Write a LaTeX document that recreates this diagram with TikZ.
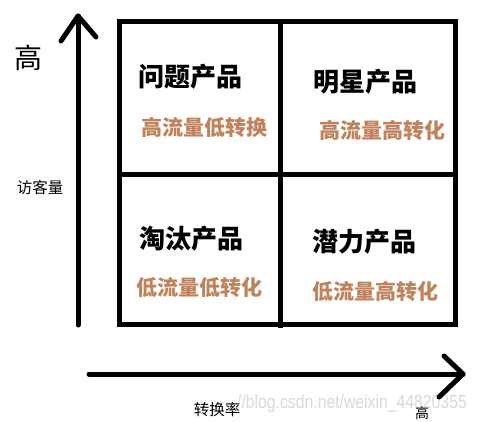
\documentclass[tikz,border=0pt]{standalone}
\usepackage{fontspec}
\newfontfamily\cjk{Noto Sans CJK SC}
\setsansfont{Liberation Sans}
\definecolor{sub}{RGB}{192,130,90}
\begin{document}
\begin{tikzpicture}[x=1pt,y=-1pt,
  thick line/.style={line width=5pt,line cap=round,line join=round},
  gridline/.style={line width=5pt},
  title/.style={font=\cjk\bfseries\fontsize{26}{26}\selectfont,inner sep=0pt},
  subt/.style={font=\cjk\bfseries\fontsize{21}{21}\selectfont,text=sub,inner sep=0pt},
  axislab/.style={font=\cjk\fontsize{15.5}{15.5}\selectfont,inner sep=0pt}]
\useasboundingbox (0,0) rectangle (477,421);
\fill[white] (0,0) rectangle (477,421);
% watermark
\begin{scope}
\clip (236,385) rectangle (477,421);
\node[font=\sffamily\fontsize{19}{19}\selectfont,text=black!15,inner sep=0pt,anchor=base east,xscale=0.83] (wm) at (467,408) {https://blog.csdn.net/weixin\_44820355};
\end{scope}
% grid
\draw[gridline] (119,21.5) rectangle (455.5,324.5);
\draw[gridline] (280.5,21.5) -- (280.5,328);
\draw[gridline] (119,174) -- (455.5,174);
% vertical axis
\coordinate (vb) at (78,325);
\coordinate (vt) at (78,16);
\coordinate (vl) at (61,41);
\coordinate (vr) at (96,37);
\draw[thick line] (vb) -- (vt);
\draw[thick line] (vl) -- (vt) -- (vr);
% horizontal axis
\coordinate (hl) at (89,374);
\coordinate (hr) at (463,374);
\coordinate (hu) at (444,356);
\coordinate (hd) at (439,397);
\draw[thick line] (hl) -- (hr);
\draw[thick line] (hu) -- (hr) -- (hd);
% axis labels
\node[font=\cjk\fontsize{28}{28}\selectfont,inner sep=0pt] (hiY) at (28.5,58) {高};
\node[axislab] (yl) at (40,188) {访客量};
\node[axislab] (xl) at (217,410) {转换率};
\node[font=\cjk\fontsize{14}{14}\selectfont,inner sep=0pt] (hiX) at (422,413) {高};
% quadrants
\node[title] (q1) at (190.5,77) {问题产品};
\node[subt] (s1) at (204.5,128) {高流量低转换};
\node[title] (q2) at (365.5,82) {明星产品};
\node[subt] (s2) at (382.5,131) {高流量高转化};
\node[title] (q3) at (191.5,239) {淘汰产品};
\node[subt] (s3) at (199.5,288) {低流量低转化};
\node[title] (q4) at (364.5,242) {潜力产品};
\node[subt] (s4) at (375.5,292) {低流量高转化};
\end{tikzpicture}
\end{document}
